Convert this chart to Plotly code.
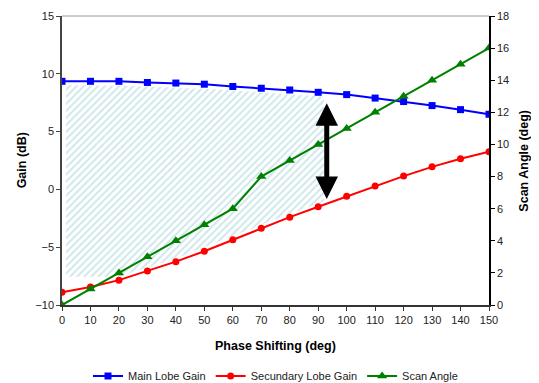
import numpy as np
import plotly.graph_objects as go

phase = [0, 10, 20, 30, 40, 50, 60, 70, 80, 90, 100, 110, 120, 130, 140, 150]
main_lobe = [9.35, 9.35, 9.35, 9.25, 9.2, 9.1, 8.9, 8.75, 8.6, 8.4, 8.2, 7.9, 7.6, 7.25, 6.9, 6.5]
sec_lobe = [-8.9, -8.45, -7.85, -7.05, -6.25, -5.35, -4.35, -3.35, -2.4, -1.5, -0.6, 0.3, 1.15, 1.95, 2.65, 3.25]
scan_angle = [0, 1, 2, 3, 4, 5, 6, 8, 9, 10, 11, 12, 13, 14, 15, 16]

# hatched region (derived from the curves)
hx = np.linspace(1.4, 92, 200)
top = np.interp(hx, phase, main_lobe) - 0.35
bot = np.maximum(np.interp(hx, phase, sec_lobe) + 0.3, -7.55)
poly_x = list(hx) + list(hx[::-1]) + [hx[0]]
poly_y = list(top) + list(bot[::-1]) + [top[0]]

FONT = "Liberation Sans, Arial, sans-serif"
TITLE_FONT = dict(family=FONT, size=12.5, color="black")

fig = go.Figure()
fig.add_trace(go.Scatter(
    x=poly_x, y=poly_y, mode="lines", line=dict(width=0), fill="toself",
    fillcolor="rgba(0,0,0,0)",
    fillpattern=dict(shape="/", fgcolor="#9ccfd6", bgcolor="white", size=5, solidity=0.4),
    showlegend=False, hoverinfo="skip"))
fig.add_trace(go.Scatter(
    x=phase, y=main_lobe, name="Main Lobe Gain", mode="lines+markers",
    line=dict(color="#0000FF", width=2), marker=dict(symbol="square", size=7, color="#0000FF")))
fig.add_trace(go.Scatter(
    x=phase, y=sec_lobe, name="Secundary Lobe Gain", mode="lines+markers",
    line=dict(color="#FF0000", width=2), marker=dict(symbol="circle", size=7, color="#FF0000")))
fig.add_trace(go.Scatter(
    x=phase, y=scan_angle, name="Scan Angle", mode="lines+markers", yaxis="y2",
    line=dict(color="#008000", width=2), marker=dict(symbol="triangle-up", size=9, color="#008000")))

# double-headed arrow
fig.add_annotation(x=93, y=7.45, ax=93, ay=-0.95, xref="x", yref="y", axref="x", ayref="y",
                   showarrow=True, arrowhead=2, arrowside="end+start", arrowwidth=5,
                   arrowsize=0.9, arrowcolor="black", text="")

# axis titles
fig.add_annotation(text="<b>Gain (dB)</b>", textangle=-90, xref="paper", yref="paper",
                   x=-0.094, y=0.5, xanchor="center", yanchor="middle", showarrow=False, font=TITLE_FONT)
fig.add_annotation(text="<b>Scan Angle (deg)</b>", textangle=-90, xref="paper", yref="paper",
                   x=1.08, y=0.5, xanchor="center", yanchor="middle", showarrow=False, font=TITLE_FONT)
fig.add_annotation(text="<b>Phase Shifting (deg)</b>", xref="paper", yref="paper",
                   x=0.5, y=-0.142, xanchor="center", yanchor="middle", showarrow=False, font=TITLE_FONT)

# top border
fig.add_shape(type="line", xref="paper", yref="paper", x0=0, x1=1, y0=1, y1=1,
              line=dict(color="#9a9a9a", width=1))

fig.update_layout(
    width=531, height=375,
    margin=dict(l=54, r=50, t=8, b=78, autoexpand=False),
    paper_bgcolor="white", plot_bgcolor="white",
    font=dict(family=FONT, size=11, color="#222222"),
    xaxis=dict(range=[0, 150], dtick=10, tick0=0, showgrid=False, zeroline=False, automargin=False,
               showline=True, linecolor="#333333", linewidth=1.5, ticks="outside", ticklen=4,
               tickcolor="#333333"),
    yaxis=dict(range=[-10, 15], dtick=5, showgrid=False, zeroline=False, automargin=False,
               showline=True, linecolor="#444444", linewidth=1.5, ticks="outside", ticklen=4,
               tickcolor="#444444"),
    yaxis2=dict(range=[0, 18], dtick=2, overlaying="y", side="right", showgrid=False, zeroline=False,
                automargin=False,
                showline=True, linecolor="black", linewidth=1.5, ticks="outside", ticklen=4,
                tickcolor="black"),
    legend=dict(orientation="h", x=0.5, xanchor="center", y=-0.246, yanchor="middle",
                font=dict(size=11, color="#222222"), itemwidth=30, tracegroupgap=0,
                bgcolor="rgba(0,0,0,0)"),
)

fig.write_html("out.html")
